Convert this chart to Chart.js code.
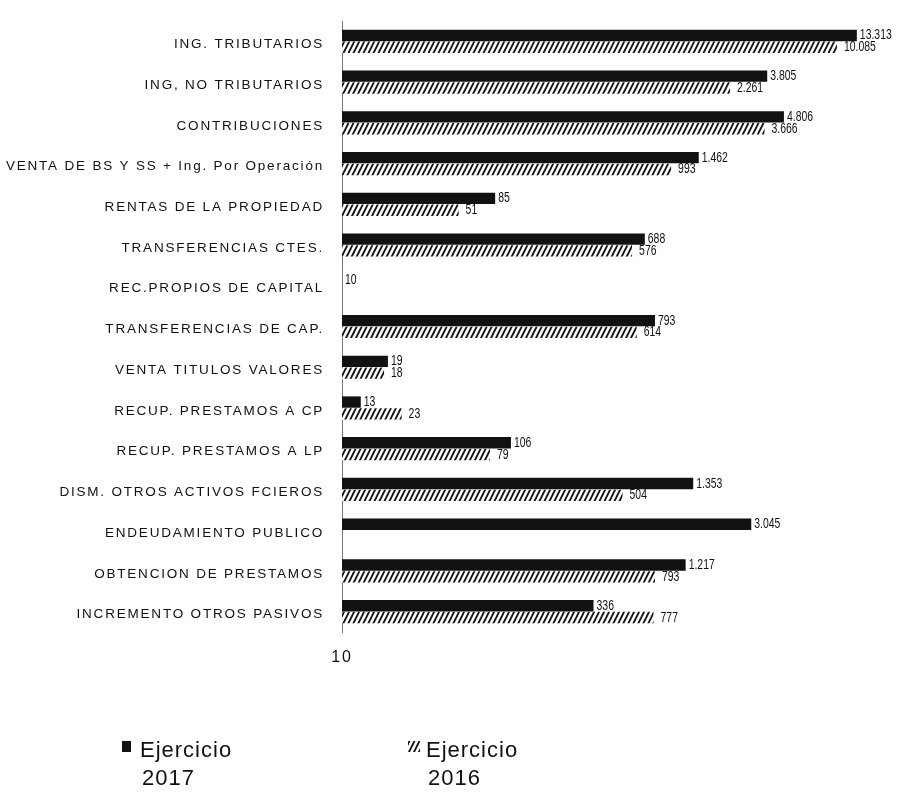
<!DOCTYPE html>
<html lang="es">
<head>
<meta charset="utf-8">
<title>Ingresos por rubro - Ejercicios 2017 y 2016</title>
<script src="https://cdn.jsdelivr.net/npm/chart.js@4.4.1/dist/chart.umd.min.js"></script>
<style>
  html, body { margin: 0; padding: 0; background: #fff; }
  canvas { display: block; }
</style>
</head>
<body>
<canvas id="chart" width="912" height="792"></canvas>
<script>
// Rubros de ingreso, de arriba hacia abajo
const CATEGORIES = [
  'ING. TRIBUTARIOS',
  'ING, NO TRIBUTARIOS',
  'CONTRIBUCIONES',
  'VENTA DE BS Y SS + Ing. Por Operación',
  'RENTAS DE LA PROPIEDAD',
  'TRANSFERENCIAS CTES.',
  'REC.PROPIOS DE CAPITAL',
  'TRANSFERENCIAS DE CAP.',
  'VENTA TITULOS VALORES',
  'RECUP. PRESTAMOS A CP',
  'RECUP. PRESTAMOS A LP',
  'DISM. OTROS ACTIVOS FCIEROS',
  'ENDEUDAMIENTO PUBLICO',
  'OBTENCION DE PRESTAMOS',
  'INCREMENTO OTROS PASIVOS',
];
const EJ_2017 = [13313, 3805, 4806, 1462, 85, 688, 10, 793, 19, 13, 106, 1353, 3045, 1217, 336];
const EJ_2016 = [10085, 2261, 3666, 993, 51, 576, null, 614, 18, 23, 79, 504, null, 793, 777];
const SERIES_LABELS = ['Ejercicio 2017', 'Ejercicio 2016'];
const AXIS_TICKS = [10];
const AXIS_MIN = 10;
const AXIS_MAX = 16000;

const INK = '#111111';
const SANS = "'Liberation Sans', Arial, sans-serif";

// thousands with a dot, as in the printed report
const fmt = (v) => String(v).replace(/\B(?=(\d{3})+(?!\d))/g, '.');

// diagonal "////" fill for the 2016 series
function hatch() {
  const tile = document.createElement('canvas');
  tile.width = 5; tile.height = 10;
  const t = tile.getContext('2d');
  t.fillStyle = '#fff';
  t.fillRect(0, 0, 5, 10);
  t.strokeStyle = INK;
  t.lineWidth = 1.9;
  t.beginPath();
  [-10, 0, 10].forEach((o) => {
    t.moveTo(-1, 10 + o + 2);
    t.lineTo(6, 10 + o - 12);
  });
  t.stroke();
  return t.createPattern(tile, 'repeat');
}

const ctx = document.getElementById('chart').getContext('2d');
const HATCH = hatch();

// the axis labels are printed with loose tracking
const spacedText = {
  id: 'spacedText',
  beforeDraw(chart) { chart.ctx.letterSpacing = '1.8px'; },
  beforeDatasetsDraw(chart) { chart.ctx.letterSpacing = '0px'; },
};

// condensed value at the end of every bar
const valueLabels = {
  id: 'valueLabels',
  afterDatasetsDraw(chart) {
    const c = chart.ctx;
    c.save();
    c.letterSpacing = '0px';
    c.font = '14.5px ' + SANS;
    c.fillStyle = INK;
    c.textAlign = 'left';
    c.textBaseline = 'middle';
    chart.data.datasets.forEach((ds, di) => {
      chart.getDatasetMeta(di).data.forEach((bar, i) => {
        const v = ds.data[i];
        if (v == null) return;
        c.save();
        c.translate(bar.x + (di === 0 ? 3 : 7), bar.y);
        c.scale(0.72, 1);
        c.fillText(fmt(v), 0, 0);
        c.restore();
      });
    });
    c.restore();
  },
};

// two-line legend under the plot
const stackedLegend = {
  id: 'stackedLegend',
  afterDraw(chart) {
    const c = chart.ctx;
    const slots = [122, 408];
    c.save();
    c.letterSpacing = '1px';
    c.font = '22px ' + SANS;
    c.textAlign = 'left';
    c.textBaseline = 'alphabetic';
    chart.data.datasets.forEach((ds, i) => {
      const x = slots[i];
      c.fillStyle = ds.backgroundColor;
      c.fillRect(x, 741, i === 0 ? 9 : 12, 11);
      c.fillStyle = INK;
      const [word, year] = ds.label.split(' ');
      c.fillText(word, x + 18, 757);
      c.fillText(year, x + 20, 785);
    });
    c.restore();
  },
};

new Chart(ctx, {
  type: 'bar',
  data: {
    labels: CATEGORIES,
    datasets: [
      {
        label: SERIES_LABELS[0],
        data: EJ_2017,
        backgroundColor: INK,
        borderWidth: 0,
        categoryPercentage: 0.58,
        barPercentage: 0.96,
      },
      {
        label: SERIES_LABELS[1],
        data: EJ_2016,
        backgroundColor: HATCH,
        borderWidth: 0,
        categoryPercentage: 0.58,
        barPercentage: 0.96,
      },
    ],
  },
  options: {
    indexAxis: 'y',
    responsive: false,
    animation: false,
    layout: { padding: { top: 21, right: 42, bottom: 120, left: 0 } },
    plugins: { legend: { display: false }, tooltip: { enabled: false } },
    scales: {
      x: {
        type: 'logarithmic',
        min: AXIS_MIN,
        max: AXIS_MAX,
        grid: { display: false, drawTicks: false },
        border: { display: false },
        afterBuildTicks: (s) => { s.ticks = AXIS_TICKS.map((value) => ({ value })); },
        afterFit: (s) => { s.height = 40; s.paddingLeft = 0; s.paddingRight = 0; },
        ticks: {
          color: INK,
          font: { size: 16, family: SANS },
          padding: 16,
          maxRotation: 0,
          autoSkip: false,
          callback: (v) => String(v),
        },
      },
      y: {
        grid: { display: false, drawTicks: false },
        border: { display: true, color: '#777', width: 1, dash: [2, 3] },
        afterFit: (s) => { s.width = 342; s.paddingTop = 0; s.paddingBottom = 0; },
        ticks: {
          color: INK,
          font: { size: 13.5, family: SANS },
          padding: 18,
          labelOffset: 3,
          autoSkip: false,
        },
      },
    },
  },
  plugins: [spacedText, valueLabels, stackedLegend],
});
</script>
</body>
</html>
